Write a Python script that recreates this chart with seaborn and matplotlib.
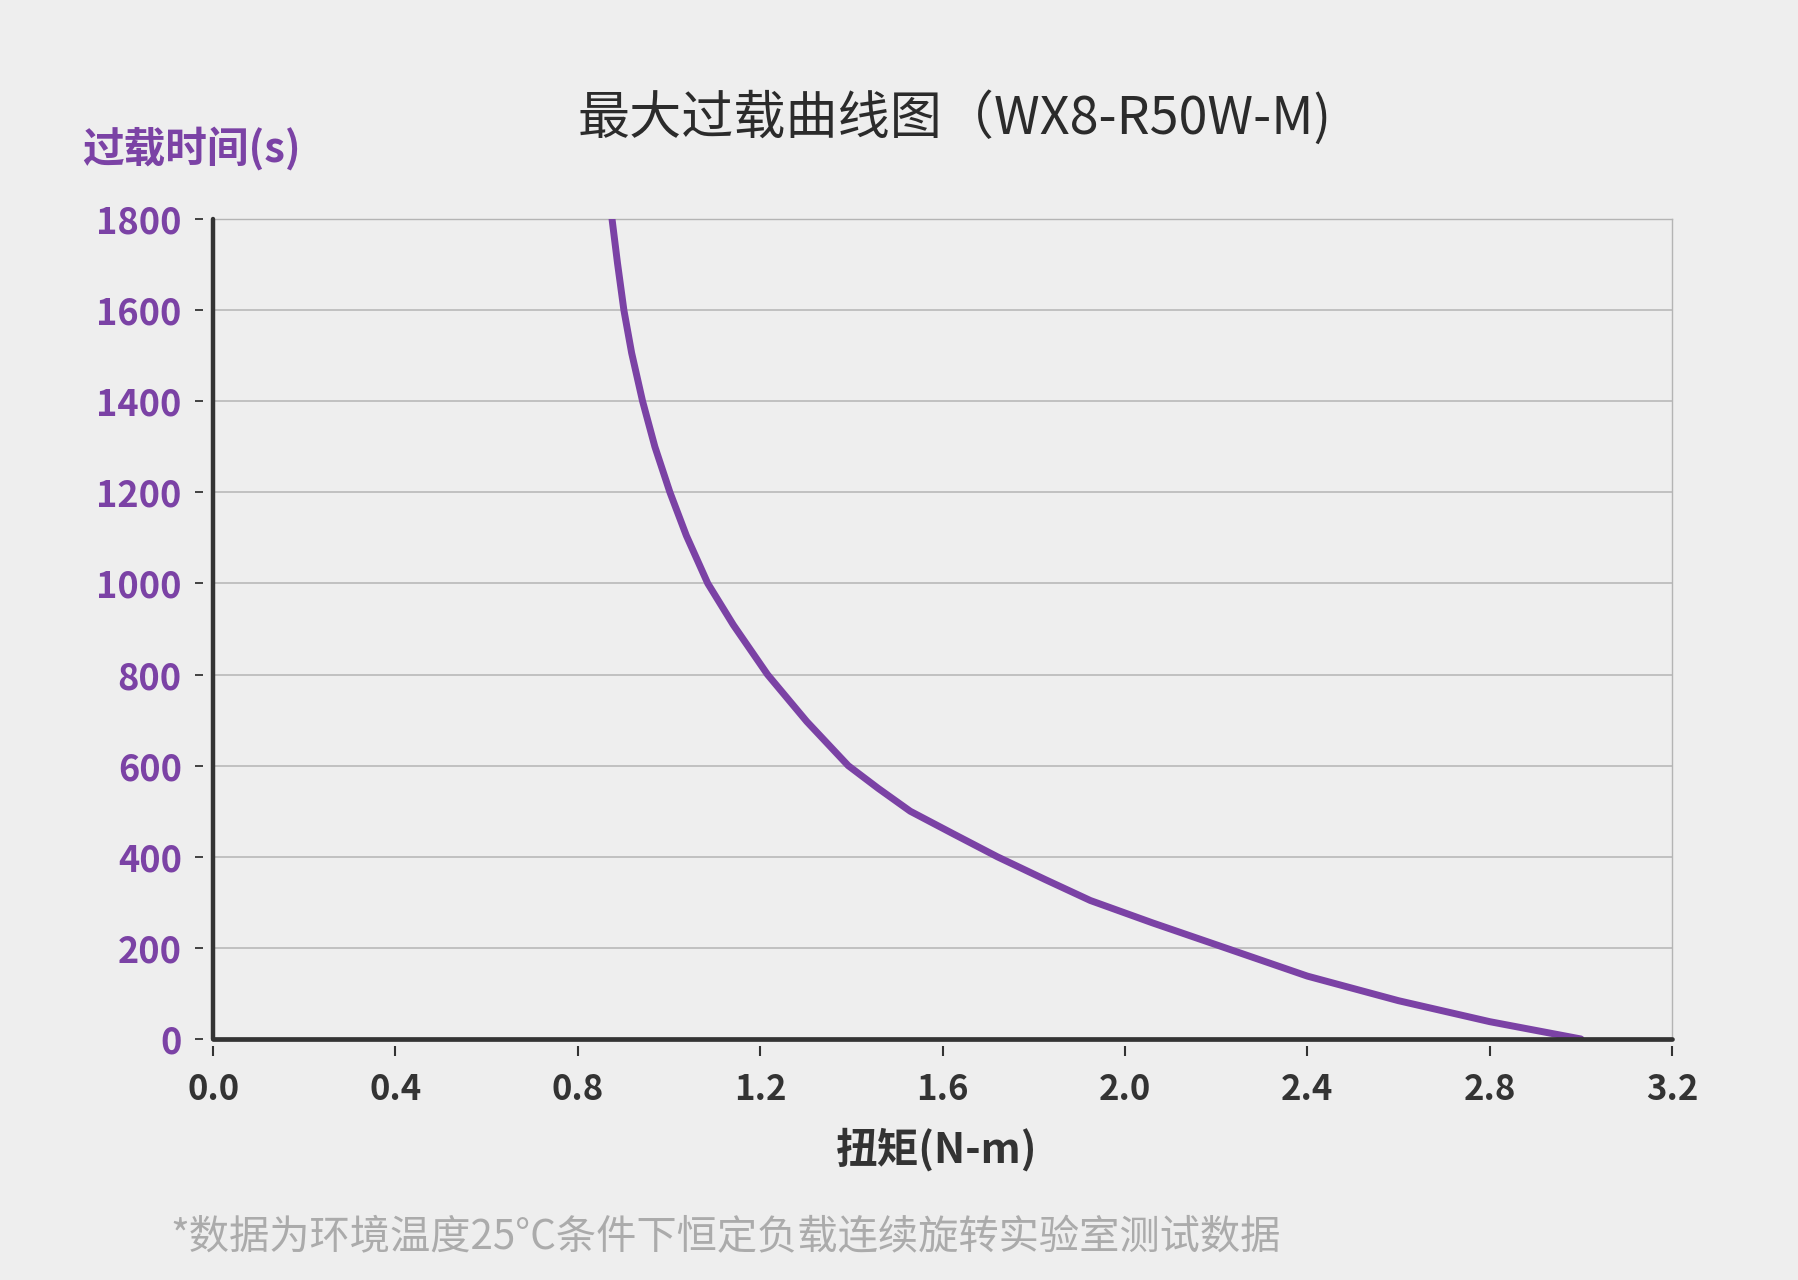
import numpy as np
import pandas as pd
import matplotlib
matplotlib.use("Agg")
import matplotlib.pyplot as plt
import seaborn as sns

# valores
torque = [0.875, 0.887, 0.901, 0.918, 0.942, 0.969, 1.002, 1.038, 1.085,
          1.141, 1.216, 1.302, 1.393, 1.459, 1.529, 1.624, 1.72, 1.825,
          1.924, 2.06, 2.22, 2.4, 2.6, 2.8, 3.0]
overload_time = [1800, 1703, 1600, 1506, 1400, 1300, 1200, 1105, 1000,
                 909, 800, 697, 600, 550, 500, 450, 400, 350,
                 304, 255, 200, 138, 84, 38, 0]

x_ticks = [0.0, 0.4, 0.8, 1.2, 1.6, 2.0, 2.4, 2.8, 3.2]
y_ticks = [0, 200, 400, 600, 800, 1000, 1200, 1400, 1600, 1800]

title = "最大过载曲线图（WX8-R50W-M)"
y_label = "过载时间(s)"
x_label = "扭矩(N-m)"
note = "*数据为环境温度25°C条件下恒定负载连续旋转实验室测试数据"

purple = "#7b42a5"
dark = "#333333"
bg = "#eeeeee"

sns.set_theme(style="white")
plt.rcParams["font.family"] = ["Noto Sans CJK SC", "DejaVu Sans"]
plt.rcParams["axes.unicode_minus"] = False

df = pd.DataFrame({"torque": torque, "time": overload_time})

fig = plt.figure(figsize=(17.98, 12.8), dpi=100, facecolor=bg)
ax = fig.add_axes([0.1185, 0.1883, 0.8115, 0.6406])
ax.set_facecolor(bg)

# grade horizontal
for v in y_ticks[1:]:
    ax.axhline(v, color="#b4b4b4", lw=1.1, zorder=1)

sns.lineplot(data=df, x="torque", y="time", ax=ax, color=purple, lw=5,
             solid_capstyle="round", solid_joinstyle="round", zorder=3)

ax.set_xlim(0, 3.2)
ax.set_ylim(0, 1800)
ax.set_xticks(x_ticks)
ax.set_yticks(y_ticks)
ax.set_xticklabels([f"{t:.1f}" for t in x_ticks])
ax.set_yticklabels([str(t) for t in y_ticks])
ax.set_xlabel("")
ax.set_ylabel("")

# eixos grossos desenhados à mão, spines deslocadas para separar os ticks
ax.axvline(0, color=dark, lw=3.2, clip_on=False, zorder=4)
ax.axhline(0, color=dark, lw=3.4, clip_on=False, zorder=4)
ax.spines["left"].set_position(("outward", 7))
ax.spines["bottom"].set_position(("outward", 5))
ax.spines["left"].set_visible(False)
ax.spines["bottom"].set_visible(False)
for s in ["top", "right"]:
    ax.spines[s].set_color("#b4b4b4")
    ax.spines[s].set_linewidth(1.0)

ax.tick_params(axis="y", direction="out", length=5.5, width=1.3, color=dark,
               pad=10, labelsize=26, labelcolor=purple, left=True)
ax.tick_params(axis="x", direction="out", length=7, width=1.5, color=dark,
               pad=12, labelsize=25, labelcolor=dark, bottom=True)
for lbl in ax.get_yticklabels() + ax.get_xticklabels():
    lbl.set_fontweight("bold")

fig.text(955 / 1798, 1 - 118 / 1280, title, ha="center", va="center",
         fontsize=37.5, color="#2b2b2b")
fig.text(82 / 1798, 1 - 149 / 1280, y_label, ha="left", va="center",
         fontsize=30, color=purple, fontweight="bold")
fig.text(937 / 1798, 1 - 1150 / 1280, x_label, ha="center", va="center",
         fontsize=30, color=dark, fontweight="bold")
fig.text(170 / 1798, 1 - 1238 / 1280, note, ha="left", va="center",
         fontsize=29, color="#ababab")

fig.savefig("out.png", dpi=100, facecolor=bg)
